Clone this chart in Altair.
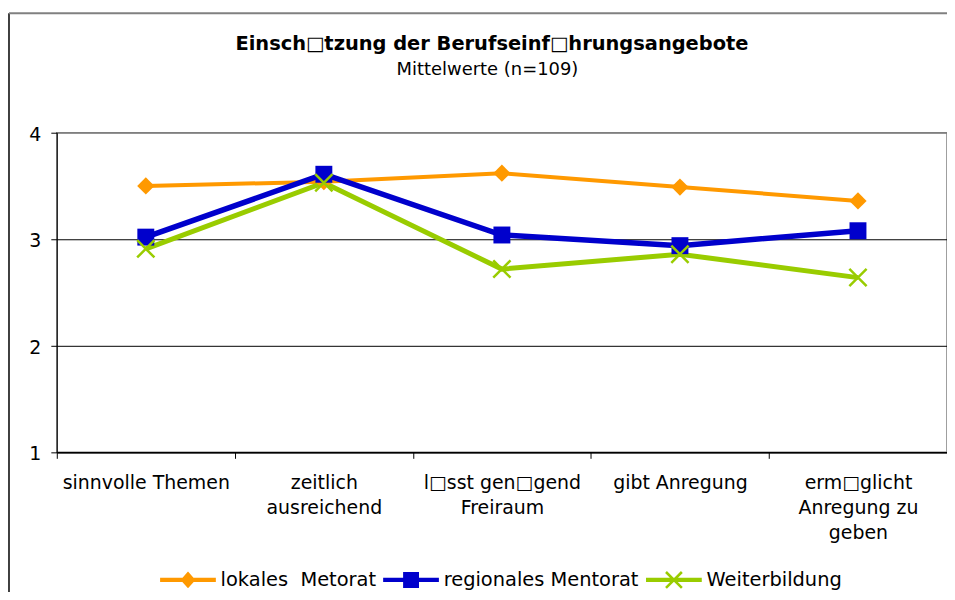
import altair as alt
import pandas as pd

# ---------------- data ----------------
categories = [
    "sinnvolle Themen",
    "zeitlich|ausreichend",
    "l\u25a1sst gen\u25a1gend|Freiraum",
    "gibt Anregung",
    "erm\u25a1glicht|Anregung zu|geben",
]
series_names = ["lokales \u00a0Metorat", "regionales Mentorat", "Weiterbildung"]
lokales = [3.50, 3.54, 3.62, 3.49, 3.36]
regionales = [3.02, 3.61, 3.04, 2.94, 3.08]
weiterbildung = [2.91, 3.53, 2.72, 2.86, 2.64]
y_ticks = [1, 2, 3, 4]
title_text = "Einsch\u25a1tzung der Berufseinf\u25a1hrungsangebote"
subtitle_text = "Mittelwerte (n=109)"

# ---------------- style ----------------
colors = ["#FF9900", "#0000CC", "#99CC00"]
line_widths = [4, 5.5, 5]
FONT = "DejaVu Sans"
W, H = 894, 321

rows = []
for name, vals in zip(series_names, [lokales, regionales, weiterbildung]):
    for cat, v in zip(categories, vals):
        rows.append({"Kategorie": cat, "Reihe": name, "Wert": v})
df = pd.DataFrame(rows)


def f(v):
    s = f"{v:.3f}".rstrip("0").rstrip(".")
    return "0" if s == "-0" else s


def poly(pts):
    return "M" + "L".join(f"{f(x)},{f(y)}" for x, y in pts) + "Z"


# legend symbols: line + marker (unit = 6 px at symbolSize 144)
cx = 3.67
t = 0.36
line_part = poly([(-1, -t), (8.33, -t), (8.33, t), (-1, t)])
dw, dh = 1.25, 1.4
diamond_part = poly([(cx, -dh), (cx + dw, 0), (cx, dh), (cx - dw, 0)])
s = 1.33
square_part = poly([(cx - s, -s), (cx + s, -s), (cx + s, s), (cx - s, s)])
a, d = 1.33, 0.15
band1 = poly([(cx - a + d, -a - d), (cx + a + d, a - d), (cx + a - d, a + d), (cx - a - d, -a + d)])
band2 = poly([(cx - a + d, a + d), (cx - a - d, a - d), (cx + a - d, -a - d), (cx + a + d, -a + d)])
legend_paths = [line_part + diamond_part, line_part + square_part, line_part + band1 + band2]

x_enc = alt.X(
    "Kategorie:N",
    sort=categories,
    scale=alt.Scale(type="band", domain=categories, paddingInner=0, paddingOuter=0),
    axis=alt.Axis(
        title=None, labelAngle=0, labelExpr="split(datum.label, '|')",
        tickBand="extent", grid=False, labelFont=FONT, labelFontSize=19,
        labelColor="black", labelLineHeight=25.5, labelPadding=15, tickSize=6,
        tickColor="black", domainColor="black", domainWidth=1.5, labelLimit=400,
    ),
)
y_enc = alt.Y(
    "Wert:Q",
    scale=alt.Scale(domain=[1, 4], nice=False, zero=False),
    axis=alt.Axis(
        title=None, values=y_ticks, format="d", grid=True,
        gridColor={"condition": {"test": "datum.value == 4", "value": "#808080"}, "value": "black"},
        gridWidth=1, gridOpacity=1, labelFont=FONT, labelFontSize=19,
        labelColor="black", labelPadding=10, tickSize=6, tickColor="black",
        domainColor="black", labelOffset=1.5,
    ),
)

base = alt.Chart(df)

# lines, one layer per series (constant colours, no extra legend-bearing channels)
line_layers = []
for name, col, lw in zip(series_names, colors, line_widths):
    line_layers.append(
        base.mark_line(color=col, strokeWidth=lw)
        .encode(x=x_enc, y=y_enc)
        .transform_filter(alt.datum.Reihe == name)
    )

marker_specs = [("diamond", 300, True), ("square", 289, True), ("M-1,-1L1,1M-1,1L1,-1", 300, False)]
point_layers = []
for name, col, (shape, size, filled) in zip(series_names, colors, marker_specs):
    if filled:
        mk = base.mark_point(shape=shape, size=size, filled=True, color=col, opacity=1, strokeWidth=0)
    else:
        mk = base.mark_point(shape=shape, size=size, filled=False, color=col, opacity=1, strokeWidth=2.5)
    point_layers.append(mk.encode(x=x_enc, y=y_enc).transform_filter(alt.datum.Reihe == name))

leg = alt.Legend(
    title=None, orient="none", legendX=100, legendY=439, direction="horizontal",
    symbolSize=144, symbolOpacity=1, symbolStrokeWidth=0, labelOffset=45,
    columnPadding=3, labelFont=FONT, labelFontSize=19.5, labelColor="black",
    labelLimit=400, padding=0,
)
carrier = base.mark_point(filled=True, opacity=0).encode(
    x=x_enc, y=y_enc,
    fill=alt.Fill("Reihe:N", scale=alt.Scale(domain=series_names, range=colors), legend=leg),
    shape=alt.Shape("Reihe:N", scale=alt.Scale(domain=series_names, range=legend_paths), legend=leg),
)

one = pd.DataFrame({"k": [0]})
left_rule = alt.Chart(one).mark_rule(color="black", strokeWidth=1.5).encode(
    x=alt.value(-48), y=alt.value(-120), y2=alt.value(H + 150)
)
top_rule = alt.Chart(one).mark_rule(color="#808080", strokeWidth=2).encode(
    x=alt.value(-48), x2=alt.value(W + 20), y=alt.value(-120)
)

title_mark = alt.Chart(pd.DataFrame({"t": [title_text]})).mark_text(
    font=FONT, fontSize=19.5, fontWeight="bold", color="black", align="center", baseline="alphabetic"
).encode(text="t:N", x=alt.value(437), y=alt.value(-83))
sub_mark = alt.Chart(pd.DataFrame({"t": [subtitle_text]})).mark_text(
    font=FONT, fontSize=18, color="black", align="center", baseline="alphabetic"
).encode(text="t:N", x=alt.value(432.5), y=alt.value(-58))

chart = alt.layer(
    left_rule, top_rule, title_mark, sub_mark, *line_layers, *point_layers, carrier
).properties(
    width=W, height=H,
    autosize=alt.AutoSizeParams(type="none"),
    padding={"left": 49, "top": 124, "right": 0, "bottom": 139},
).configure_view(stroke="#808080", strokeWidth=1.5)

chart.save("out.html", embed_options={"renderer": "svg", "actions": False})
